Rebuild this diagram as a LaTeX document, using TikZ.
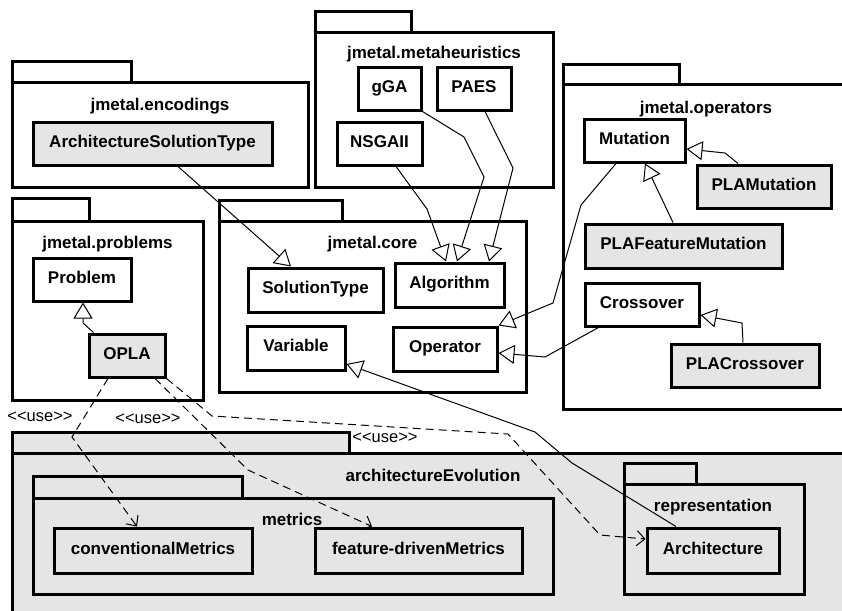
\documentclass[tikz,border=0pt]{standalone}
\usepackage{fontspec}
\setmainfont{Liberation Sans}
% same family without TeX ligatures, so that << and >> stay as typed
\newfontfamily\stereofont{Liberation Sans}[Ligatures=TeXOff]
\usetikzlibrary{arrows.meta}
\definecolor{pkgfill}{RGB}{229,229,229}
\begin{document}
\begin{tikzpicture}[x=1pt,y=-1pt,
  pkg/.style={draw, line width=3pt},
  pkgtitle/.style={anchor=base, font=\bfseries\fontsize{17}{20}\selectfont, inner sep=0pt},
  cls/.style={draw, line width=3pt, fill=white, inner sep=0pt, text height=12pt, text depth=5pt,
    font=\bfseries\fontsize{17}{20}\selectfont},
  ext/.style={cls, fill=pkgfill},
  gen/.style={line width=1pt, -{Triangle[fill=white, length=16pt, width=19pt]}},
  dep/.style={line width=1pt, dash pattern=on 8pt off 5pt, -{Straight Barb[length=8pt, width=15pt]}},
  use/.style={font=\stereofont\fontsize{16.5}{19}\selectfont, inner sep=0pt},
]
\useasboundingbox (0,0) rectangle (842,610);
\clip (0,0) rectangle (842,610);

% ---------- packages ----------
% jmetal.encodings
\draw[pkg] (12,61) rectangle (131,82);
\draw[pkg] (12,82) rectangle (308,187);
\node[pkgtitle] (tenc) at (160,110) {jmetal.encodings};
% jmetal.metaheuristics
\draw[pkg] (315,12) rectangle (411,33);
\draw[pkg] (315,33) rectangle (553,187);
\node[pkgtitle] (tmeta) at (434,59) {jmetal.metaheuristics};
% jmetal.operators
\draw[pkg] (563,64) rectangle (679,84);
\draw[pkg] (563,84) rectangle (860,409);
\node[pkgtitle] (tops) at (706,113) {jmetal.operators};
% jmetal.problems
\draw[pkg] (12,198) rectangle (89,221);
\draw[pkg] (12,221) rectangle (203,400);
\node[pkgtitle] (tprob) at (107.5,248) {jmetal.problems};
% jmetal.core
\draw[pkg] (219,200) rectangle (342,221);
\draw[pkg] (219,221) rectangle (526,392);
\node[pkgtitle] (tcore) at (372.5,248) {jmetal.core};
% architectureEvolution
\draw[pkg, fill=pkgfill] (12,432) rectangle (349,453);
\draw[pkg, fill=pkgfill] (12,453) rectangle (860,625);
\node[pkgtitle] (tae) at (433,481) {architectureEvolution};
% metrics
\draw[pkg, fill=pkgfill] (33,476) rectangle (242,498);
\draw[pkg, fill=pkgfill] (33,498) rectangle (553,594);
\node[pkgtitle] (tmet) at (292,525) {metrics};
% representation
\draw[pkg, fill=pkgfill] (624,463) rectangle (696,484);
\draw[pkg, fill=pkgfill] (624,484) rectangle (804,594);
\node[pkgtitle] (trep) at (713,511) {representation};

% ---------- classes ----------
\node[ext, minimum width=239pt, minimum height=43pt] (ast) at (152.5,143.5) {ArchitectureSolutionType};
\node[cls, minimum width=63pt, minimum height=43pt] (gga) at (389.5,88.5) {gGA};
\node[cls, minimum width=74pt, minimum height=43pt] (paes) at (474,88.5) {PAES};
\node[cls, minimum width=85pt, minimum height=43pt] (nsga) at (379.5,143.5) {NSGAII};
\node[cls, minimum width=101pt, minimum height=43pt] (mut) at (634.5,140.5) {Mutation};
\node[ext, minimum width=134pt, minimum height=43pt] (plamut) at (764,186.5) {PLAMutation};
\node[ext, minimum width=197pt, minimum height=44pt] (plafm) at (683.5,246) {PLAFeatureMutation};
\node[cls, minimum width=114pt, minimum height=43pt] (cross) at (642,304.5) {Crossover};
\node[ext, minimum width=148pt, minimum height=43pt] (placross) at (745,365.5) {PLACrossover};
\node[cls, minimum width=98pt, minimum height=43pt] (prob) at (82,279.5) {Problem};
\node[ext, minimum width=76pt, minimum height=43pt] (opla) at (127,355.5) {OPLA};
\node[cls, minimum width=135pt, minimum height=44pt] (soltype) at (315.5,290) {SolutionType};
\node[cls, minimum width=109pt, minimum height=44pt] (alg) at (449.5,285) {Algorithm};
\node[cls, minimum width=98pt, minimum height=44pt] (var) at (296,348) {Variable};
\node[cls, minimum width=104pt, minimum height=44pt] (oper) at (445,349) {Operator};
\node[ext, minimum width=198pt, minimum height=45pt] (convm) at (153,550.5) {conventionalMetrics};
\node[ext, minimum width=207pt, minimum height=45pt] (fdm) at (418.5,550.5) {feature-drivenMetrics};
\node[ext, minimum width=132pt, minimum height=45pt] (arch) at (713,550.5) {Architecture};

% ---------- generalizations ----------
\draw[gen] ([xshift=25.5pt]ast.south) -- ([xshift=-24.5pt]soltype.north);
\draw[gen] ([xshift=16.5pt]nsga.south) -- (427,209) -- ([xshift=-3.5pt]alg.north);
\draw[gen] (gga.south east) -- (464,137) -- (484,177) -- ([xshift=7.5pt]alg.north);
\draw[gen] ([xshift=11pt]paes.south) -- (513,168) -- ([xshift=39.5pt]alg.north);
\draw[gen] ([xshift=-18.5pt]mut.south) -- (581,205) -- (553,303) -- (oper.north east);
\draw[gen] ([xshift=15pt]cross.south west) -- (545,357) -- ([yshift=-4pt]oper.east);
\draw[gen] ([xshift=-26pt]plamut.north) -- (725,153) -- ([yshift=-8.5pt]mut.east);
\draw[gen] ([xshift=-10.5pt]plafm.north) -- ([xshift=10.5pt]mut.south);
\draw[gen] ([xshift=-2pt]placross.north) -- (742,323) -- ([yshift=-10.5pt]cross.east);
\draw[gen] ([xshift=6pt]opla.north west) -- (83,323) -- ([xshift=1pt]prob.south);
\draw[gen] ([xshift=-37pt]arch.north) -- (572,463) -- (535,432) -- ([yshift=-16pt]var.east);

% ---------- dependencies ----------
\draw[dep] ([xshift=-19pt]opla.south) -- (72,437) -- ([xshift=-16pt]convm.north);
\draw[dep] ([xshift=28pt]opla.south) -- (248,470) -- ([xshift=-46.5pt]fdm.north);
\draw[dep] (opla.south east) -- (212,416) -- (508,434) -- (600,535) -- ([yshift=11.5pt]arch.west);

\node[use] (u1) at (40,417) {<<use>>};
\node[use] (u2) at (148,419) {<<use>>};
\node[use] (u3) at (385,438) {<<use>>};
\end{tikzpicture}
\end{document}
